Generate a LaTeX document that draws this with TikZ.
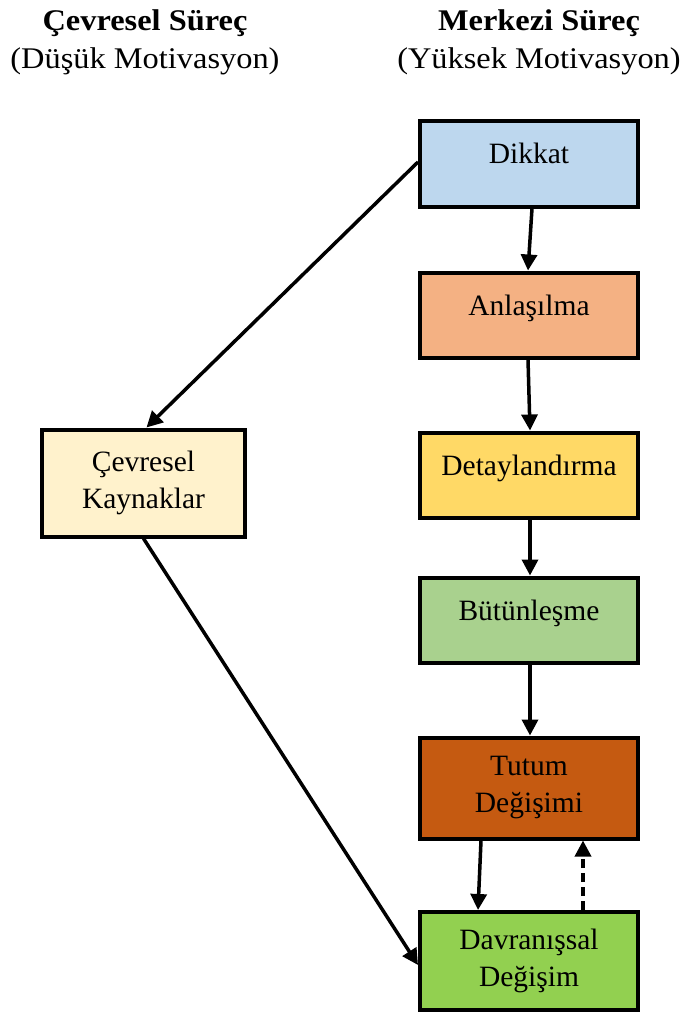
\documentclass[tikz,border=0pt]{standalone}
\usepackage{fontspec}
\setmainfont{Liberation Serif}
\newfontfamily\headfont[FakeStretch=1.08]{Liberation Serif}
\usetikzlibrary{arrows.meta}
\definecolor{cBlue}{HTML}{BDD7EE}
\definecolor{cSalmon}{HTML}{F4B183}
\definecolor{cGold}{HTML}{FFD966}
\definecolor{cSage}{HTML}{A9D18E}
\definecolor{cRust}{HTML}{C55A11}
\definecolor{cLime}{HTML}{92D050}
\definecolor{cCream}{HTML}{FFF2CC}
\begin{document}
\begin{tikzpicture}[x=1pt,y=-1pt,
  stage/.style={draw=black, line width=4pt, rectangle, inner sep=0pt,
    minimum width=218pt, minimum height=85pt, align=center,
    font=\fontsize{29.5}{37}\selectfont},
  oneline/.style={text height=20pt, text depth=20pt},
  head/.style={align=center, font=\headfont\fontsize{30}{38}\selectfont},
  flow/.style={line width=3.5pt, -{Triangle[length=16pt,width=16pt]}},
  back/.style={flow, dashed, dash pattern=on 9pt off 5pt}]
\useasboundingbox (0,0) rectangle (680,1014);

% column headings
\node[head] (hl) at (145,42) {\textbf{Çevresel Süreç}\\(Düşük Motivasyon)};
\node[head] (hr) at (539,42) {\textbf{Merkezi Süreç}\\(Yüksek Motivasyon)};

% central route
\node[stage, oneline, fill=cBlue]   (dik) at (529,164) {Dikkat};
\node[stage, oneline, fill=cSalmon] (anl) at (529,315) {Anlaşılma};
\node[stage, oneline, fill=cGold]   (det) at (529,475) {Detaylandırma};
\node[stage, oneline, fill=cSage]   (but) at (529,620) {Bütünleşme};
\node[stage, fill=cRust, minimum height=101pt] (tut) at (529,788) {Tutum\\Değişimi};
\node[stage, fill=cLime, minimum height=98pt]  (dav) at (529,961) {Davranışsal\\Değişim};

% peripheral route
\node[stage, fill=cCream, minimum width=203pt, minimum height=107pt] (cev) at (143.5,483) {Çevresel\\Kaynaklar};

% connectors
\draw[flow] ([xshift=3pt]dik.south) -- ([xshift=-1pt]anl.north);
\draw[flow] ([xshift=-1pt]anl.south) -- ([xshift=1pt]det.north);
\draw[flow] ([xshift=1pt]det.south) -- ([xshift=1pt]but.north);
\draw[flow] ([xshift=1pt]but.south) -- ([xshift=1pt]tut.north);
\draw[flow] ([xshift=-48pt]tut.south) -- ([xshift=-51pt]dav.north);
\draw[back] ([xshift=54pt]dav.north) -- ([xshift=54pt]tut.south);
\draw[flow] ([yshift=2pt]dik.west) -- ([xshift=3pt]cev.north);
\draw[flow] (cev.south) -- ([yshift=-4pt]dav.west);
\end{tikzpicture}
\end{document}
